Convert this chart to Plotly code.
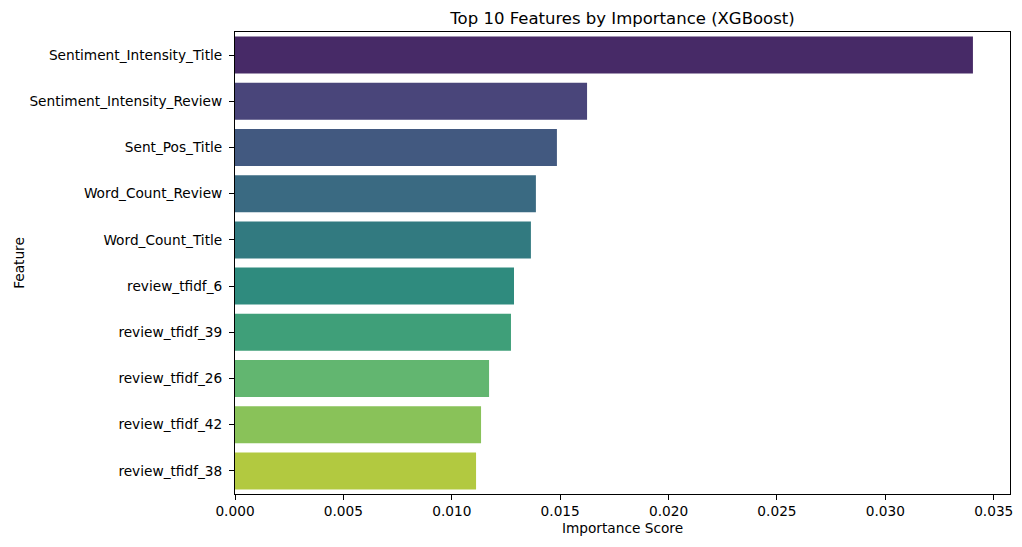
import colorsys
import plotly.graph_objects as go
from plotly.colors import sample_colorscale, unlabel_rgb

# Feature importances
features = [
    "Sentiment_Intensity_Title",
    "Sentiment_Intensity_Review",
    "Sent_Pos_Title",
    "Word_Count_Review",
    "Word_Count_Title",
    "review_tfidf_6",
    "review_tfidf_39",
    "review_tfidf_26",
    "review_tfidf_42",
    "review_tfidf_38",
]
importance = [0.03404, 0.01624, 0.01485, 0.01388, 0.01365,
              0.01287, 0.01273, 0.01172, 0.01135, 0.01112]
x_ticks = [0.0, 0.005, 0.01, 0.015, 0.02, 0.025, 0.03, 0.035]


# seaborn-like viridis palette, desaturated to 0.75
def palette(n, sat=0.75):
    pts = [(i + 1) / (n + 1) for i in range(n)]
    out = []
    for c in sample_colorscale("Viridis", pts):
        r, g, b = [v / 255 for v in unlabel_rgb(c)]
        h, l, s = colorsys.rgb_to_hls(r, g, b)
        r, g, b = colorsys.hls_to_rgb(h, l, s * sat)
        out.append("rgb(%d,%d,%d)" % (r * 255, g * 255, b * 255))
    return out


colors = palette(len(features))

fig = go.Figure(go.Bar(
    x=importance,
    y=features,
    orientation="h",
    marker=dict(color=colors, line=dict(width=0)),
    width=0.8,
))

axis_style = dict(
    showline=True, linecolor="black", linewidth=1, mirror=True,
    ticks="outside", ticklen=5, tickcolor="black",
    showgrid=False, zeroline=False, automargin=False,
    tickfont=dict(size=13.7, color="black"),
)

# page body has an 8px margin, so the figure is a bit smaller than the window
W, H = 1006, 531
fig.update_layout(
    width=W, height=H,
    margin=dict(l=227, r=4, t=24, b=45),
    paper_bgcolor="white", plot_bgcolor="white",
    font=dict(family="DejaVu Sans", color="black"),
    title=dict(text="Top 10 Features by Importance (XGBoost)",
               x=(227 + 1002) / 2 / W, xanchor="center",
               y=1 - 10 / H, yanchor="middle",
               font=dict(size=16.5, color="black")),
    showlegend=False,
    bargap=0.2,
)
fig.update_xaxes(
    range=[0, 0.03575], tickvals=x_ticks,
    ticktext=["%.3f" % t for t in x_ticks],
    title=dict(text="Importance Score", font=dict(size=13.7), standoff=4),
    **axis_style,
)
fig.update_yaxes(
    autorange="reversed", ticklabelstandoff=4,
    title=dict(text="Feature", font=dict(size=13.7), standoff=1),
    **axis_style,
)

fig.write_html("out.html")
